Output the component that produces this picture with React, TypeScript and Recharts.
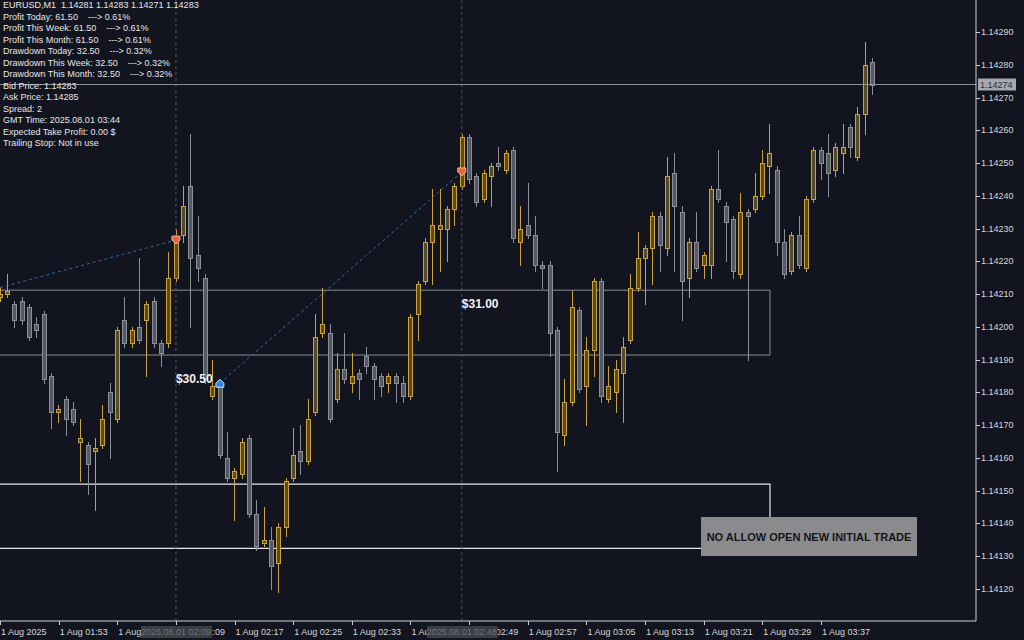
import React from 'react';
import { ComposedChart, Bar, XAxis, YAxis, ReferenceLine, ReferenceArea, ReferenceDot } from 'recharts';

// EURUSD M1 candles, 01:45 .. 03:44 (index 0 = 01:45)
const openPrices = [
  1.14209, 1.14210, 1.14207, 1.14208, 1.14206, 1.14201, 1.14204, 1.14185, 1.14174, 1.14178,
  1.14175, 1.14165, 1.14164, 1.14162, 1.14164, 1.14180, 1.14172, 1.14202, 1.14195, 1.14200,
  1.14202, 1.14208, 1.14195, 1.14195, 1.14215, 1.14228, 1.14243, 1.14222, 1.14215, 1.14179,
  1.14182, 1.14160, 1.14154, 1.14155, 1.14166, 1.14143, 1.14134, 1.14135, 1.14128, 1.14139,
  1.14154, 1.14162, 1.14159, 1.14174, 1.14198, 1.14198, 1.14178, 1.14187, 1.14183, 1.14186,
  1.14191, 1.14188, 1.14185, 1.14183, 1.14185, 1.14183, 1.14179, 1.14204, 1.14214, 1.14226,
  1.14230, 1.14230, 1.14236, 1.14243, 1.14258, 1.14246, 1.14239, 1.14246, 1.14250, 1.14248,
  1.14254, 1.14226, 1.14231, 1.14228, 1.14219, 1.14219, 1.14199, 1.14167, 1.14177, 1.14205,
  1.14182, 1.14193, 1.14214, 1.14178, 1.14180, 1.14186, 1.14196, 1.14212, 1.14221, 1.14224,
  1.14234, 1.14224, 1.14247, 1.14235, 1.14215, 1.14226, 1.14219, 1.14219, 1.14242, 1.14237,
  1.14233, 1.14216, 1.14235, 1.14236, 1.14240, 1.14249, 1.14248, 1.14226, 1.14217, 1.14228,
  1.14218, 1.14239, 1.14254, 1.14253, 1.14248, 1.14253, 1.14261, 1.14252, 1.14265, 1.14281,
];
const highPrices = [
  1.14212, 1.14216, 1.14208, 1.14209, 1.14207, 1.14203, 1.14205, 1.14186, 1.14176, 1.14179,
  1.14177, 1.14172, 1.14165, 1.14166, 1.14176, 1.14183, 1.14200, 1.14209, 1.14200, 1.14221,
  1.14208, 1.14209, 1.14196, 1.14223, 1.14230, 1.14243, 1.14259, 1.14234, 1.14216, 1.14190,
  1.14183, 1.14168, 1.14157, 1.14166, 1.14167, 1.14147, 1.14145, 1.14139, 1.14140, 1.14154,
  1.14169, 1.14170, 1.14178, 1.14204, 1.14212, 1.14201, 1.14192, 1.14198, 1.14192, 1.14187,
  1.14194, 1.14189, 1.14186, 1.14186, 1.14186, 1.14185, 1.14204, 1.14214, 1.14227, 1.14242,
  1.14242, 1.14237, 1.14244, 1.14259, 1.14259, 1.14247, 1.14248, 1.14250, 1.14255, 1.14254,
  1.14255, 1.14237, 1.14244, 1.14234, 1.14220, 1.14220, 1.14200, 1.14184, 1.14211, 1.14206,
  1.14197, 1.14215, 1.14215, 1.14188, 1.14190, 1.14197, 1.14216, 1.14229, 1.14225, 1.14235,
  1.14235, 1.14252, 1.14253, 1.14237, 1.14227, 1.14235, 1.14223, 1.14243, 1.14254, 1.14238,
  1.14234, 1.14241, 1.14236, 1.14247, 1.14254, 1.14262, 1.14249, 1.14230, 1.14229, 1.14234,
  1.14240, 1.14255, 1.14255, 1.14259, 1.14256, 1.14262, 1.14262, 1.14267, 1.14287, 1.14282,
];
const lowPrices = [
  1.14208, 1.14209, 1.14200, 1.14201, 1.14196, 1.14197, 1.14183, 1.14169, 1.14171, 1.14167,
  1.14170, 1.14153, 1.14149, 1.14144, 1.14163, 1.14160, 1.14171, 1.14194, 1.14194, 1.14195,
  1.14185, 1.14194, 1.14188, 1.14194, 1.14214, 1.14226, 1.14200, 1.14214, 1.14183, 1.14178,
  1.14160, 1.14153, 1.14141, 1.14154, 1.14142, 1.14132, 1.14133, 1.14120, 1.14119, 1.14136,
  1.14153, 1.14155, 1.14158, 1.14173, 1.14197, 1.14171, 1.14177, 1.14183, 1.14180, 1.14178,
  1.14186, 1.14178, 1.14179, 1.14180, 1.14177, 1.14177, 1.14178, 1.14196, 1.14213, 1.14213,
  1.14217, 1.14220, 1.14231, 1.14242, 1.14244, 1.14237, 1.14238, 1.14237, 1.14248, 1.14247,
  1.14226, 1.14219, 1.14227, 1.14217, 1.14212, 1.14191, 1.14156, 1.14164, 1.14176, 1.14180,
  1.14170, 1.14185, 1.14177, 1.14177, 1.14174, 1.14171, 1.14195, 1.14211, 1.14207, 1.14213,
  1.14217, 1.14222, 1.14217, 1.14202, 1.14209, 1.14217, 1.14215, 1.14215, 1.14238, 1.14220,
  1.14215, 1.14215, 1.14190, 1.14235, 1.14239, 1.14241, 1.14222, 1.14215, 1.14216, 1.14218,
  1.14217, 1.14238, 1.14245, 1.14240, 1.14246, 1.14247, 1.14252, 1.14251, 1.14259, 1.14271,
];
const closePrices = [
  1.14210, 1.14211, 1.14202, 1.14202, 1.14197, 1.14199, 1.14184, 1.14174, 1.14175, 1.14172,
  1.14171, 1.14166, 1.14158, 1.14163, 1.14172, 1.14174, 1.14199, 1.14195, 1.14199, 1.14196,
  1.14207, 1.14195, 1.14192, 1.14215, 1.14226, 1.14237, 1.14221, 1.14218, 1.14184, 1.14182,
  1.14161, 1.14154, 1.14156, 1.14165, 1.14143, 1.14133, 1.14135, 1.14127, 1.14139, 1.14153,
  1.14161, 1.14159, 1.14172, 1.14197, 1.14201, 1.14172, 1.14187, 1.14184, 1.14185, 1.14184,
  1.14188, 1.14184, 1.14182, 1.14185, 1.14183, 1.14179, 1.14203, 1.14213, 1.14226, 1.14231,
  1.14231, 1.14236, 1.14243, 1.14258, 1.14245, 1.14238, 1.14247, 1.14249, 1.14249, 1.14253,
  1.14227, 1.14230, 1.14228, 1.14219, 1.14218, 1.14198, 1.14168, 1.14177, 1.14206, 1.14181,
  1.14193, 1.14214, 1.14179, 1.14182, 1.14187, 1.14194, 1.14212, 1.14221, 1.14224, 1.14234,
  1.14225, 1.14246, 1.14237, 1.14214, 1.14226, 1.14218, 1.14222, 1.14242, 1.14239, 1.14232,
  1.14217, 1.14235, 1.14234, 1.14240, 1.14250, 1.14253, 1.14226, 1.14216, 1.14228, 1.14219,
  1.14239, 1.14254, 1.14250, 1.14247, 1.14255, 1.14255, 1.14255, 1.14265, 1.14280, 1.14274,
];

const xTickIndices = [0, 8, 16, 24, 32, 40, 48, 56, 64, 72, 80, 88, 96, 104, 112];
const xTickLabels = [
  '1 Aug 2025', '1 Aug 01:53', '1 Aug 02:01', '1 Aug 02:09', '1 Aug 02:17', '1 Aug 02:25',
  '1 Aug 02:33', '1 Aug 02:41', '1 Aug 02:49', '1 Aug 02:57', '1 Aug 03:05', '1 Aug 03:13',
  '1 Aug 03:21', '1 Aug 03:29', '1 Aug 03:37',
];
const yTicks = [
  1.1412, 1.1413, 1.1414, 1.1415, 1.1416, 1.1417, 1.1418, 1.1419, 1.142,
  1.1421, 1.1422, 1.1423, 1.1424, 1.1425, 1.1426, 1.1427, 1.1428, 1.1429,
];
const currentPrice = 1.14274;

const tradeBarIndices = [24, 63];
const tradeBarLabels = ['2025.08.01 02:09', '2025.08.01 02:48'];
const sellMarkers = [
  { i: 24, price: 1.142265 },
  { i: 63, price: 1.142473 },
];
const buyMarkers = [{ i: 30, price: 1.141828 }];
const tradeLines = [
  [{ x: 0, y: 1.14212 }, { x: 24, y: 1.142265 }],
  [{ x: 30, y: 1.141828 }, { x: 63, y: 1.142473 }],
];
const profitLabels = [
  { i: 24, price: 1.14184, text: '$30.50' },
  { i: 63, price: 1.14207, text: '$31.00' },
];
const grayZone = { end: 105.05, low: 1.141914, high: 1.142112 };
const whiteZone = { end: 105.05, low: 1.141324, high: 1.14152 };

const infoLines = [
  'EURUSD,M1  1.14281 1.14283 1.14271 1.14283',
  'Profit Today: 61.50    ---> 0.61%',
  'Profit This Week: 61.50    ---> 0.61%',
  'Profit This Month: 61.50    ---> 0.61%',
  'Drawdown Today: 32.50    ---> 0.32%',
  'Drawdown This Week: 32.50    ---> 0.32%',
  'Drawdown This Month: 32.50    ---> 0.32%',
  'Bid Price: 1.14283',
  'Ask Price: 1.14285',
  'Spread: 2',
  'GMT Time: 2025.08.01 03:44',
  'Expected Take Profit: 0.00 $',
  'Trailing Stop: Not in use',
];
const warningText = 'NO ALLOW OPEN NEW INITIAL TRADE';

const data = openPrices.map((o, i) => ({
  i,
  open: o,
  high: highPrices[i],
  low: lowPrices[i],
  close: closePrices[i],
}));

const FONT = '"Liberation Sans", Arial, sans-serif';
const BG = '#12141f';
const BULL_LINE = '#c9a23c';
const BULL_FILL = '#5a4a22';
const BEAR_LINE = '#8b8e95';
const BEAR_FILL = '#565a62';
const AXIS = '#cfd0d4';

const Candle = (props: any) => {
  const { x, y, width, height, payload } = props;
  if (!payload || x == null || y == null) return null;
  const { open, close, high, low } = payload;
  const top = Math.min(y, y + height);
  const h = Math.abs(height);
  const pix = (v: number) => (high === low ? top : top + ((high - v) / (high - low)) * h);
  const bull = close >= open;
  const line = bull ? BULL_LINE : BEAR_LINE;
  const fill = bull ? BULL_FILL : BEAR_FILL;
  const r = Math.round(x + width / 2);
  const cx = r + 0.5;
  const bTop = Math.round(pix(Math.max(open, close)));
  const bBot = Math.round(pix(Math.min(open, close)));
  return (
    <g>
      <line x1={cx} x2={cx} y1={Math.round(top)} y2={Math.round(top + h) + 1} stroke={line} strokeWidth={1} />
      {bBot - bTop < 1 ? (
        <line x1={r - 2} x2={r + 3} y1={bTop + 0.5} y2={bTop + 0.5} stroke={line} strokeWidth={1} />
      ) : (
        <rect x={r - 1.5} y={bTop + 0.5} width={4} height={bBot - bTop} fill={fill} stroke={line} strokeWidth={1} />
      )}
    </g>
  );
};

const XTick = (props: any) => {
  const { x, y, payload } = props;
  const v = payload.value;
  const mi = tradeBarIndices.indexOf(v);
  const li = xTickIndices.indexOf(v);
  return (
    <g>
      {li >= 0 && (
        <>
          <line x1={Math.round(x) + 0.5} x2={Math.round(x) + 0.5} y1={y} y2={y + 4} stroke={AXIS} />
          <text x={x + 1} y={y + 11} dominantBaseline="central" fontSize={9} fontFamily={FONT} fill="#d8d8d8">
            {xTickLabels[li]}
          </text>
        </>
      )}
      {mi >= 0 && (
        <>
          <rect x={x - 35} y={y + 5} width={71} height={12} fill="#3b3d44" />
          <text x={x} y={y + 11} textAnchor="middle" dominantBaseline="central" fontSize={9} fontFamily={FONT} fill="#6f7279">
            {tradeBarLabels[mi]}
          </text>
        </>
      )}
    </g>
  );
};

const YTick = (props: any) => {
  const { x, y, payload } = props;
  const v = payload.value;
  if (v === currentPrice) {
    return (
      <g>
        <rect x={x + 2} y={y - 6} width={38} height={12} fill="#a4a8b0" />
        <text x={x + 4} y={y} dominantBaseline="central" fontSize={9} fontFamily={FONT} fill="#2a2d36">
          {v.toFixed(5)}
        </text>
      </g>
    );
  }
  return (
    <g>
      <line x1={x} x2={x + 4} y1={Math.round(y) + 0.5} y2={Math.round(y) + 0.5} stroke={AXIS} />
      <text x={x + 5} y={y} dominantBaseline="central" fontSize={9} fontFamily={FONT} fill="#d8d8d8">
        {v.toFixed(5)}
      </text>
    </g>
  );
};

const SellShape = (p: any) => {
  const { cx, cy } = p;
  return (
    <polygon
      points={`${cx - 4},${cy - 4} ${cx + 4},${cy - 4} ${cx + 4},${cy} ${cx},${cy + 4} ${cx - 4},${cy}`}
      fill="#e6643a"
      stroke="#f3b49a"
      strokeWidth={1}
    />
  );
};
const BuyShape = (p: any) => {
  const { cx, cy } = p;
  return (
    <polygon
      points={`${cx - 4},${cy + 4} ${cx + 4},${cy + 4} ${cx + 4},${cy} ${cx},${cy - 4} ${cx - 4},${cy}`}
      fill="#2f86df"
      stroke="#cfe3ff"
      strokeWidth={1}
    />
  );
};

export default function App() {
  return (
    <div
      style={{
        position: 'fixed',
        left: 0,
        top: 0,
        width: 1024,
        height: 640,
        background: BG,
        overflow: 'hidden',
        fontFamily: FONT,
      }}
    >
      <ComposedChart width={1024} height={640} data={data} margin={{ top: 0, right: 0, bottom: 0, left: 0 }}>
        <XAxis
          dataKey="i"
          type="number"
          domain={[0, 133.15]}
          allowDataOverflow
          ticks={[...xTickIndices, ...tradeBarIndices.filter((t) => !xTickIndices.includes(t))]}
          interval={0}
          tickLine={false}
          tickSize={0}
          tickMargin={0}
          tick={(p: any) => <XTick {...p} />}
          axisLine={{ stroke: AXIS }}
          height={19}
        />
        <YAxis
          orientation="right"
          type="number"
          domain={[1.141102, 1.142998]}
          allowDataOverflow
          ticks={[...yTicks, currentPrice]}
          interval={0}
          tickLine={false}
          tickSize={0}
          tickMargin={0}
          tick={(p: any) => <YTick {...p} />}
          axisLine={{ stroke: AXIS }}
          width={48}
        />
        <ReferenceArea
          x1={-2}
          x2={grayZone.end}
          y1={grayZone.low}
          y2={grayZone.high}
          fill="none"
          stroke="#8a8d94"
          strokeWidth={1}
          ifOverflow="visible"
        />
        <ReferenceArea
          x1={-2}
          x2={whiteZone.end}
          y1={whiteZone.low}
          y2={whiteZone.high}
          fill="none"
          stroke="#e8e8e8"
          strokeWidth={1.2}
          ifOverflow="visible"
        />
        {tradeBarIndices.map((t) => (
          <ReferenceLine key={'v' + t} x={t} stroke="#50545e" strokeDasharray="3 3" />
        ))}
        <ReferenceLine y={currentPrice} stroke="#8e929b" />
        {tradeLines.map((seg, k) => (
          <ReferenceLine key={'t' + k} segment={seg} stroke="#2f6ea6" strokeDasharray="3 3" ifOverflow="visible" />
        ))}
        <Bar
          dataKey={(d: any) => [d.low, d.high]}
          barSize={5}
          isAnimationActive={false}
          shape={(p: any) => <Candle {...p} />}
        />
        {sellMarkers.map((m, k) => (
          <ReferenceDot key={'s' + k} x={m.i} y={m.price} r={4} shape={(p: any) => <SellShape {...p} />} />
        ))}
        {buyMarkers.map((m, k) => (
          <ReferenceDot key={'b' + k} x={m.i} y={m.price} r={4} shape={(p: any) => <BuyShape {...p} />} />
        ))}
        {profitLabels.map((m, k) => (
          <ReferenceDot
            key={'l' + k}
            x={m.i}
            y={m.price}
            r={1}
            shape={(p: any) => (
              <text x={p.cx} y={p.cy} dominantBaseline="central" fontSize={12} fontWeight="bold" fontFamily={FONT} fill="#f2f2f2">
                {m.text}
              </text>
            )}
          />
        ))}
      </ComposedChart>
      <div
        style={{
          position: 'absolute',
          left: 3,
          top: 0,
          fontSize: 9,
          lineHeight: '11.5px',
          color: '#e6e6e6',
          whiteSpace: 'pre',
          fontFamily: FONT,
        }}
      >
        {infoLines.map((l, k) => (
          <div key={k}>{l}</div>
        ))}
      </div>
      <div
        style={{
          position: 'absolute',
          left: 701,
          top: 517,
          width: 216,
          height: 39,
          background: '#8b8b8d',
          display: 'flex',
          alignItems: 'center',
          justifyContent: 'center',
          fontSize: 11,
          fontWeight: 'bold',
          color: '#15161b',
          fontFamily: FONT,
          whiteSpace: 'nowrap',
        }}
      >
        {warningText}
      </div>
    </div>
  );
}
